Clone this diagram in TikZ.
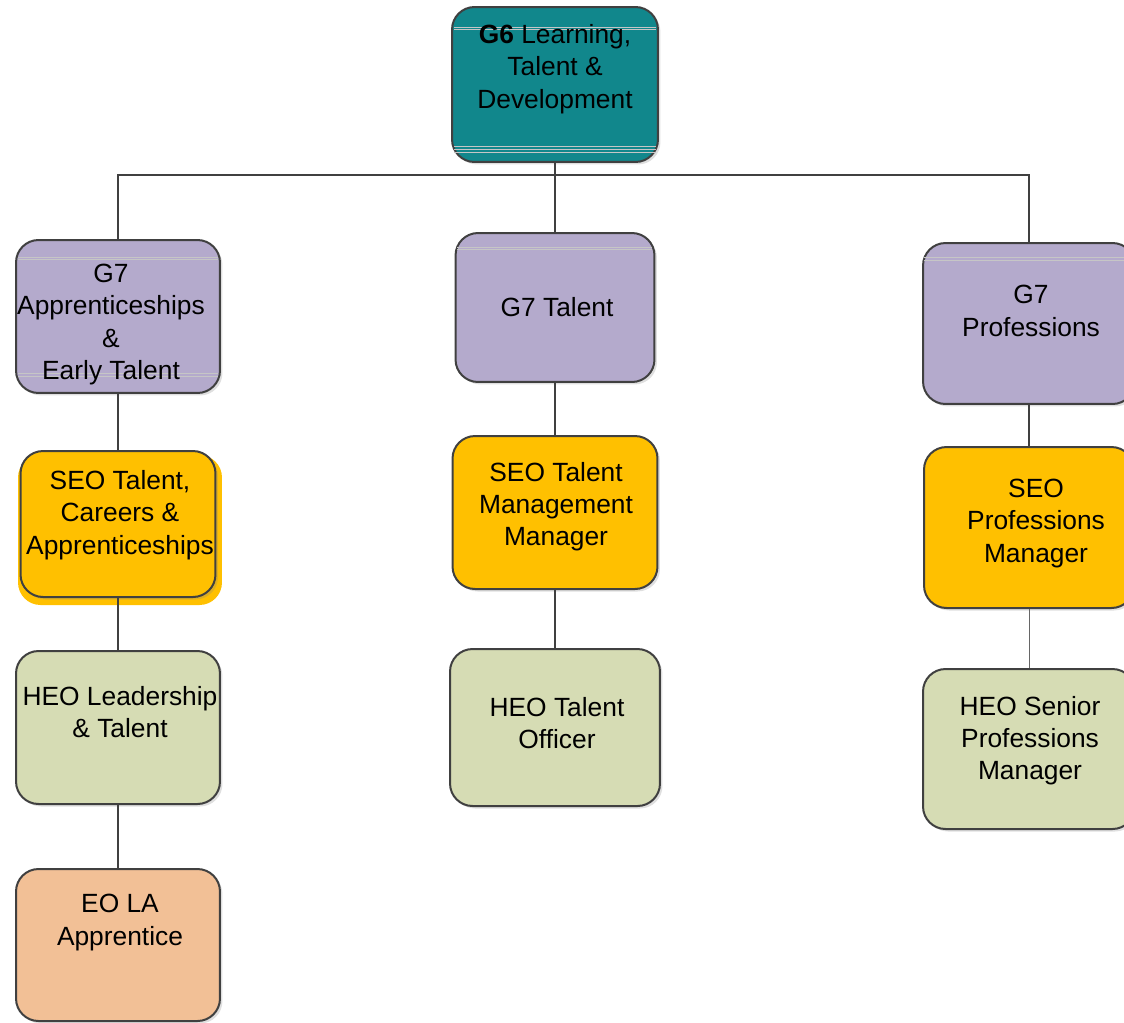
\documentclass[tikz,border=0pt]{standalone}
\usepackage{fontspec}
\setmainfont{Liberation Sans}
\usetikzlibrary{shadows}
\definecolor{headteal}{RGB}{17,135,140}
\definecolor{gradelilac}{RGB}{180,170,204}
\definecolor{seoyellow}{RGB}{255,192,0}
\definecolor{heogreen}{RGB}{214,220,180}
\definecolor{eopeach}{RGB}{242,192,150}
\definecolor{edgegray}{RGB}{64,64,64}
\tikzset{
BOX/.style ={draw=edgegray,line width=0.4mm,rounded corners=0.45cm,inner sep=0pt,fill=#1,
	drop shadow={shadow xshift=0.5mm,shadow yshift=-0.5mm,opacity=0.25}},
BACK/.style={draw=none,rounded corners=0.45cm,inner sep=0pt,fill=#1},
LINK/.style ={draw=edgegray,line width=0.4mm},
THINLINK/.style ={draw=edgegray!80,line width=0.2mm},
LABEL/.style={font=\fontsize{15}{18.4}\selectfont,align=center,text=black,inner sep=0pt},
FAINT/.style={draw=white!55!gray,line width=0.15mm},
}
\begin{document}
\begin{tikzpicture}
[x=0.02cm,y=-0.02cm]
	\useasboundingbox (0,0) rectangle (1124,1022);
	%Head
	\node[BOX=headteal,minimum width=4.12cm,minimum height=3.1cm] (g6) at (555,84.5) {};
	\draw[FAINT] (454,27) -- (656,27) (454,29.5) -- (656,29.5);
	\draw[FAINT] (454,146) -- (656,146) (454,149) -- (656,149) (454,152) -- (656,152);
	\node[LABEL] (g6text) at (555,69) {\textbf{G6} Learning,\\Talent \&\\Development};
	%G7 row
	\node[BOX=gradelilac,minimum width=4.08cm,minimum height=3.06cm] (apr) at (118,316.5) {};
	\draw[FAINT] (18,257) -- (218,257) (18,259.5) -- (218,259.5);
	\draw[FAINT] (18,373) -- (218,373) (18,376) -- (218,376);
	\node[LABEL] (aprtext) at (111,324.5) {G7\\Apprenticeships\\\&\\Early Talent};
	\node[BOX=gradelilac,minimum width=3.98cm,minimum height=2.98cm] (tal) at (555,307.5) {};
	\draw[FAINT] (457,247) -- (652,247) (457,249.5) -- (652,249.5);
	\node[LABEL] (taltext) at (557,307) {G7 Talent};
	\node[BOX=gradelilac,minimum width=4.24cm,minimum height=3.22cm] (prof) at (1029,323.5) {};
	\draw[FAINT] (924,257) -- (1124,257) (924,260) -- (1124,260);
	\node[LABEL] (proftext) at (1031,311) {G7\\Professions};
	%SEO row
	\node[BACK=seoyellow,minimum width=4.08cm,minimum height=3.0cm] (seotcaback) at (120,530) {};
	\node[BOX=seoyellow,minimum width=3.9cm,minimum height=2.92cm] (seotca) at (118,524) {};
	\node[LABEL] (seotcatext) at (120,515) {SEO Talent,\\Careers \&\\Apprenticeships};
	\node[BOX=seoyellow,minimum width=4.1cm,minimum height=3.06cm] (seotm) at (555,512.5) {};
	\node[LABEL] (seotmtext) at (556,506.5) {SEO Talent\\Management\\Manager};
	\node[BOX=seoyellow,minimum width=4.2cm,minimum height=3.22cm] (seop) at (1029,527.5) {};
	\node[LABEL] (seoptext) at (1036,523.5) {SEO\\Professions\\Manager};
	%HEO row
	\node[BOX=heogreen,minimum width=4.08cm,minimum height=3.06cm] (heolt) at (118,727.5) {};
	\node[LABEL] (heolttext) at (120,712) {HEO Leadership\\\& Talent};
	\node[BOX=heogreen,minimum width=4.2cm,minimum height=3.14cm] (heot) at (555,727.5) {};
	\node[LABEL] (heottext) at (557,723) {HEO Talent\\Officer};
	\node[BOX=heogreen,minimum width=4.24cm,minimum height=3.2cm] (heosp) at (1029,749) {};
	\node[LABEL] (heosptext) at (1030,740.5) {HEO Senior\\Professions\\Manager};
	%EO
	\node[BOX=eopeach,minimum width=4.08cm,minimum height=3.04cm] (eo) at (118,945) {};
	\node[LABEL] (eotext) at (120,922.5) {EO LA\\Apprentice};
	%Links
	\coordinate (bus) at (555,175);
	\draw[LINK] (g6.south) -- (tal.north);
	\draw[LINK] (bus) -| (apr.north);
	\draw[LINK] (bus) -| (prof.north);
	\draw[LINK] (apr) -- (seotca);
	\draw[LINK] (seotca) -- (heolt);
	\draw[LINK] (heolt) -- (eo);
	\draw[LINK] (tal) -- (seotm);
	\draw[LINK] (seotm) -- (heot);
	\draw[LINK] (prof) -- (seop);
	\draw[THINLINK] (seop) -- (heosp);
\end{tikzpicture}
\end{document}
